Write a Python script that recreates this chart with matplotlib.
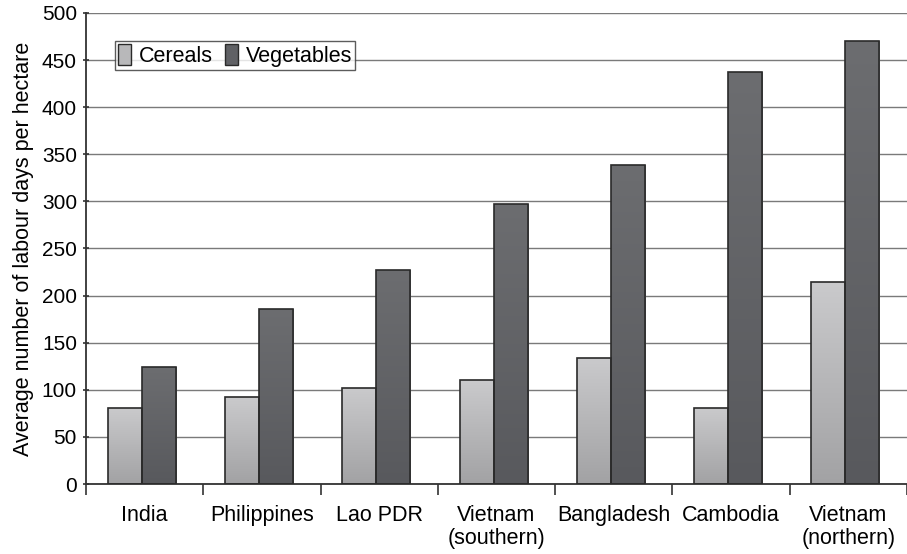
import matplotlib
matplotlib.use("Agg")
import matplotlib.pyplot as plt
import numpy as np
from matplotlib.patches import Patch

plt.rcParams['font.family'] = ['Liberation Sans', 'DejaVu Sans']

categories = ["India", "Philippines", "Lao PDR", "Vietnam\n(southern)", "Bangladesh", "Cambodia", "Vietnam\n(northern)"]
cereals = [81, 92, 102, 110, 134, 81, 214]
vegetables = [124, 186, 227, 297, 339, 437, 470]
yticks = [0, 50, 100, 150, 200, 250, 300, 350, 400, 450, 500]

fig = plt.figure(figsize=(9.07, 5.54), dpi=100)
ax = fig.add_axes([86/907, 70/554, 821/907, 471/554])

n = len(categories)
x = np.arange(n)
w = 0.29
off = -0.025

def grad_bars(xs, vals, top_col, bot_col, label):
    bars = ax.bar(xs, vals, w, facecolor='none', edgecolor='#2a2a2a', linewidth=1.2, zorder=3, label=label)
    g = np.linspace(0, 1, 256).reshape(-1, 1)
    tc = np.array(matplotlib.colors.to_rgb(top_col))
    bc = np.array(matplotlib.colors.to_rgb(bot_col))
    img = tc[None, None, :] * (1 - g[:, :, None]) + bc[None, None, :] * g[:, :, None]
    for b in bars:
        x0, y0 = b.get_x(), b.get_y()
        im = ax.imshow(img, extent=[x0, x0 + b.get_width(), y0, y0 + b.get_height()],
                       aspect='auto', zorder=2, origin='upper', interpolation='bilinear')
        im.set_clip_path(b)
    return bars

grad_bars(x - w/2 + off, cereals, '#cacacc', '#a2a2a4', 'Cereals')
grad_bars(x + w/2 + off, vegetables, '#6c6d70', '#58595d', 'Vegetables')

ax.set_xlim(-0.5, n - 0.5)
ax.set_ylim(0, 500)
ax.set_yticks(yticks)
ax.set_yticklabels([str(v) for v in yticks], fontsize=15)
ax.yaxis.grid(True, color='#7a7a7a', linewidth=1.0, zorder=0)
ax.set_axisbelow(True)

ax.set_xticks(np.arange(n + 1) - 0.5, minor=False)
ax.set_xticklabels([])
ax.set_xticks(x, minor=True)
ax.set_xticklabels(categories, minor=True, fontsize=15.5, linespacing=1.15)
ax.tick_params(axis='x', which='minor', length=0, pad=15)
ax.tick_params(axis='x', which='major', length=8, width=1.2, color='#333333', direction='out')
ax.tick_params(axis='y', length=5, width=1.2, color='#333333', direction='inout', pad=4)

for s in ['top', 'right']:
    ax.spines[s].set_visible(False)
ax.spines['left'].set_color('#333333')
ax.spines['left'].set_linewidth(1.3)
ax.spines['bottom'].set_color('#333333')
ax.spines['bottom'].set_linewidth(1.3)

ax.set_ylabel('Average number of labour days per hectare', fontsize=15.5, labelpad=6)

handles = [Patch(facecolor='#b8b8ba', edgecolor='#2a2a2a'), Patch(facecolor='#606165', edgecolor='#2a2a2a')]
leg = ax.legend(handles, ['Cereals', 'Vegetables'], loc='upper left', bbox_to_anchor=(0.035, 0.94),
                ncol=2, fontsize=15.5, frameon=True, fancybox=False, handlelength=0.6, handleheight=1.1,
                handletextpad=0.35, columnspacing=0.6, borderpad=0.15, borderaxespad=0)
leg.get_frame().set_edgecolor('#333333')
leg.get_frame().set_linewidth(1.0)

fig.savefig('out.png', dpi=100)
